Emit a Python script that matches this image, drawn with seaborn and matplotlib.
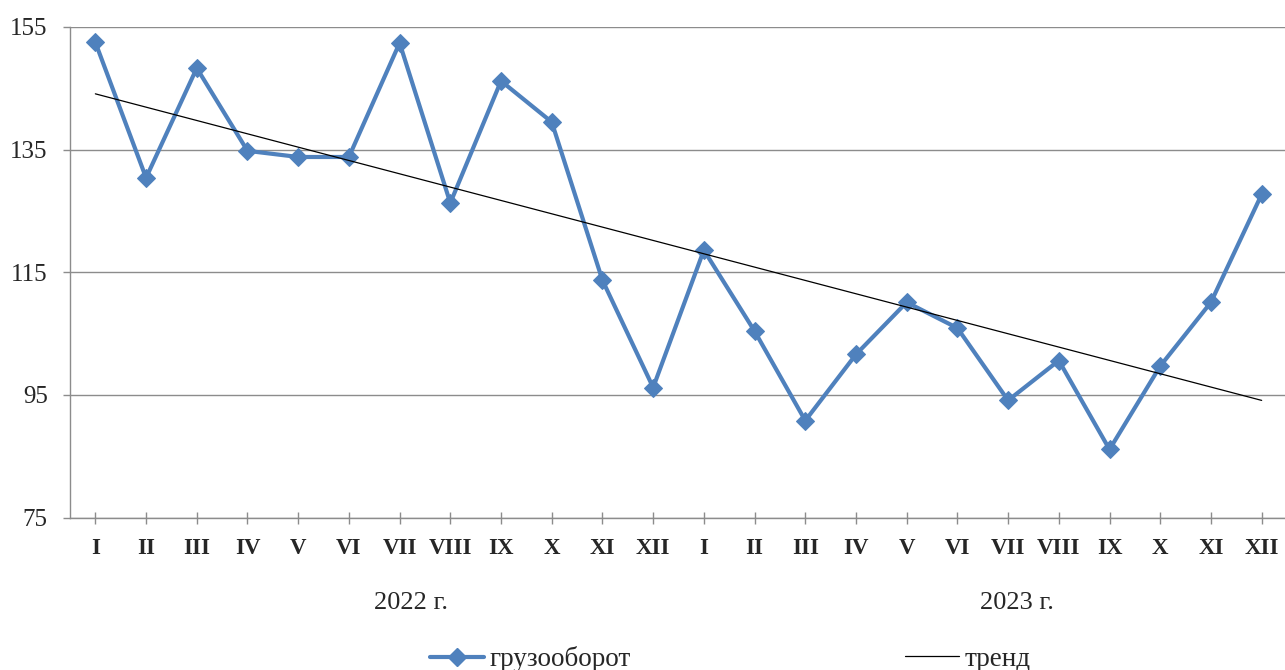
import numpy as np
import pandas as pd
import matplotlib
matplotlib.use("Agg")
import matplotlib.pyplot as plt
import seaborn as sns
from matplotlib.lines import Line2D

# данные (грузооборот по месяцам 2022-2023)
months = ["I", "II", "III", "IV", "V", "VI", "VII", "VIII", "IX", "X", "XI", "XII",
          "I", "II", "III", "IV", "V", "VI", "VII", "VIII", "IX", "X", "XI", "XII"]
cargo = [152.5, 130.4, 148.3, 134.8, 133.8, 133.8, 152.4, 126.3, 146.2, 139.5, 113.7, 96.2,
         118.6, 105.4, 90.8, 101.6, 110.1, 105.9, 94.1, 100.6, 86.1, 99.7, 110.1, 127.7]
trend_ends = [144.1, 94.1]
years = ["2022 г.", "2023 г."]
yticks = [75, 95, 115, 135, 155]

df = pd.DataFrame({"x": np.arange(len(cargo)), "y": cargo})
df_trend = pd.DataFrame({"x": [0, len(cargo) - 1], "y": trend_ends})

sns.set_style("white")
plt.rcParams['font.family'] = ['Liberation Serif', 'DejaVu Serif']

blue = "#4F81BD"
grid_c = "#8C8C8C"

fig = plt.figure(figsize=(12.85, 6.7), dpi=100)
ax = fig.add_axes([70 / 1285, 152.5 / 670, 1217 / 1285, 490.5 / 670])

sns.lineplot(data=df, x="x", y="y", ax=ax, color=blue, lw=3, marker="D",
             markersize=9, markeredgecolor=blue, zorder=3)
sns.lineplot(data=df_trend, x="x", y="y", ax=ax, color="black", lw=0.9, zorder=4)

ax.set_xlim(-0.5, len(cargo) - 0.5)
ax.set_ylim(75, 155)
ax.set_yticks(yticks)
ax.set_yticklabels([str(v) for v in yticks], fontsize=18)
ax.set_xticks(np.arange(len(cargo)))
ax.set_xticklabels(months, fontsize=16.5, fontweight="bold")
ax.set_xlabel("")
ax.set_ylabel("")

ax.yaxis.grid(True, color=grid_c, lw=1)
ax.tick_params(axis="y", length=5, width=1, color=grid_c, pad=11, left=True, direction="out")
ax.tick_params(axis="x", length=8, width=1, color=grid_c, pad=11, bottom=True, direction="inout")

for s in ["top", "right"]:
    ax.spines[s].set_visible(False)
for s in ["left", "bottom"]:
    ax.spines[s].set_color(grid_c)
    ax.spines[s].set_linewidth(1)

fig.text(411 / 1285, 67 / 670, years[0], ha="center", va="center", fontsize=19)
fig.text(1017 / 1285, 67 / 670, years[1], ha="center", va="center", fontsize=19)

h1 = Line2D([], [], color=blue, lw=3, marker="D", markersize=9)
h2 = Line2D([], [], color="black", lw=0.9)
leg1 = fig.legend([h1], ["грузооборот"], loc="center left", bbox_to_anchor=(430 / 1285, 11 / 670),
                  frameon=False, fontsize=19.5, handlelength=2.0, handletextpad=0.2,
                  borderaxespad=0, borderpad=0)
leg2 = fig.legend([h2], ["тренд"], loc="center left", bbox_to_anchor=(905 / 1285, 11 / 670),
                  frameon=False, fontsize=19.5, handlelength=2.0, handletextpad=0.2,
                  borderaxespad=0, borderpad=0)

fig.savefig("out.png", dpi=100)
